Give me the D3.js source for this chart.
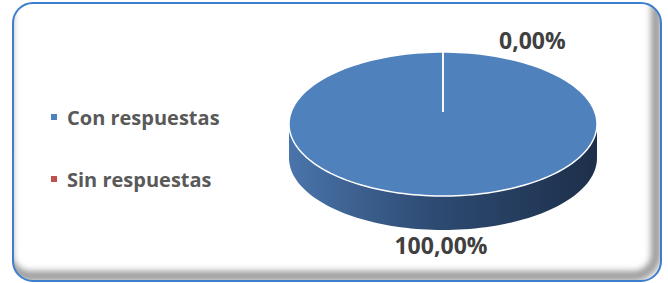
<!DOCTYPE html>
<meta charset="utf-8">
<title>Con / Sin respuestas</title>
<style>
body { margin: 0; background: #fff; }
svg { display: block; }
text { font-family: "Open Sans", "DejaVu Sans", sans-serif; font-weight: bold; }
</style>
<body>
<script src="https://cdn.jsdelivr.net/npm/d3@7"></script>
<script>
'use strict';

// chart data
const categories = ["Con respuestas", "Sin respuestas"];
const values = [100, 0];
const colors = ["#4f81bd", "#c0504d"];

const width = 668, height = 283;

// fake 3d pie geometry
const cx = 443, cy = 124, rx = 154, ry = 72, depth = 34, tilt = 12;

const pct = d3.format(".2f");
const fmt = (v) => pct(v).replace(".", ",") + "%";
const total = d3.sum(values);

const svg = d3.select("body").append("svg")
    .attr("width", width)
    .attr("height", height);

const defs = svg.append("defs");

defs.append("clipPath").attr("id", "frameClip")
  .append("rect")
    .attr("x", 13).attr("y", 3)
    .attr("width", 648).attr("height", 278)
    .attr("rx", 20);

defs.append("filter").attr("id", "blur")
    .attr("x", "-10%").attr("y", "-10%").attr("width", "120%").attr("height", "120%")
  .append("feGaussianBlur").attr("stdDeviation", 3);

const side = defs.append("linearGradient").attr("id", "sideGrad")
    .attr("x1", "0%").attr("x2", "100%").attr("y1", "0%").attr("y2", "0%");
side.append("stop").attr("offset", "0%").attr("stop-color", "#4a74ab");
side.append("stop").attr("offset", "45%").attr("stop-color", "#2e4c74");
side.append("stop").attr("offset", "100%").attr("stop-color", "#1d2f4a");

// frame with inner shadow
svg.append("g")
    .attr("clip-path", "url(#frameClip)")
  .append("rect")
    .attr("x", 8).attr("y", -30)
    .attr("width", 648).attr("height", 306)
    .attr("rx", 22)
    .attr("fill", "none")
    .attr("stroke", "#7a7a7a")
    .attr("stroke-opacity", 0.75)
    .attr("stroke-width", 10)
    .attr("filter", "url(#blur)");

svg.append("rect")
    .attr("x", 13).attr("y", 3)
    .attr("width", 648).attr("height", 278)
    .attr("rx", 20)
    .attr("fill", "none")
    .attr("stroke", "#3d7fcc")
    .attr("stroke-width", 2);

// pie
const pie = d3.pie().sort(null).value((d) => d)(values);
const ex = (a) => cx + rx * Math.sin(a);
const ey = (a) => cy - ry * Math.cos(a);

// side wall (front half of the ellipse)
const front = d3.range(Math.PI / 2, Math.PI * 1.5 + 0.001, Math.PI / 90);
const wall = d3.path();
front.forEach((a, i) => i ? wall.lineTo(ex(a), ey(a)) : wall.moveTo(ex(a), ey(a)));
front.slice().reverse().forEach((a) => wall.lineTo(ex(a), ey(a) + depth));
wall.closePath();

svg.append("path")
    .attr("d", wall.toString())
    .attr("fill", "url(#sideGrad)");

// top face, one path per slice
const pc = [cx, cy - tilt];
svg.selectAll("path.slice")
  .data(pie)
  .join("path")
    .attr("class", "slice")
    .attr("fill", (d, i) => colors[i])
    .attr("stroke", "#fff")
    .attr("stroke-width", 1.5)
    .attr("d", (d) => {
      const p = d3.path();
      const n = Math.max(1, Math.ceil((d.endAngle - d.startAngle) / (Math.PI / 90)));
      p.moveTo(pc[0], pc[1]);
      for (let k = 0; k <= n; k++) {
        const a = d.startAngle + (d.endAngle - d.startAngle) * k / n;
        p.lineTo(ex(a), ey(a));
      }
      p.closePath();
      return p.toString();
    });

// data labels
svg.selectAll("text.lbl")
  .data(pie)
  .join("text")
    .attr("class", "lbl")
    .attr("fill", "#404040")
    .style("font-size", "23px")
    .attr("text-anchor", (d) => d.value === 0 ? "start" : "middle")
    .attr("x", (d) => {
      const a = (d.startAngle + d.endAngle) / 2;
      return d.value === 0 ? ex(a) + 56 : ex(a) - 2;
    })
    .attr("y", (d) => {
      const a = (d.startAngle + d.endAngle) / 2;
      return Math.cos(a) > 0 ? ey(a) - 3 : ey(a) + depth + 24;
    })
    .text((d) => fmt(d.value / total * 100));

// legend
const legend = svg.selectAll("g.leg")
  .data(categories)
  .join("g")
    .attr("class", "leg")
    .attr("transform", (d, i) => `translate(51,${114 + i * 62})`);

legend.append("rect")
    .attr("width", 6).attr("height", 6)
    .attr("fill", (d, i) => colors[i]);

legend.append("text")
    .attr("x", 16).attr("y", 11)
    .attr("fill", "#595959")
    .style("font-size", "20px")
    .text((d) => d);
</script>
</body>
